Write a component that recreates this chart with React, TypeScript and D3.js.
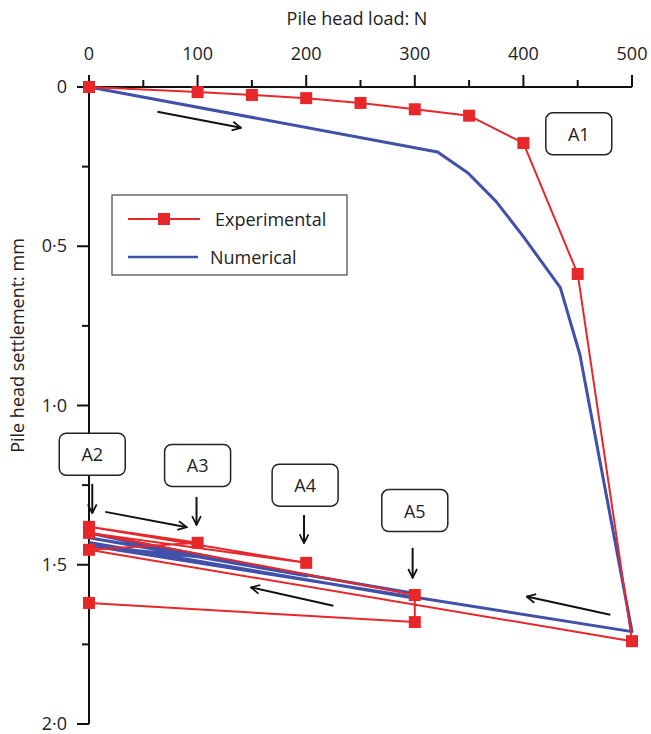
import React from "react";
import * as d3 from "d3";

// Load (N) vs settlement (mm) for the experimental cycles
const expLoad = [0, 100, 150, 200, 250, 300, 350, 400, 450, 500, 0, 100, 0, 200, 0, 300, 300, 0];
const expSettle = [0, 0.016, 0.025, 0.035, 0.05, 0.07, 0.09, 0.176, 0.587, 1.74, 1.453, 1.431, 1.381, 1.494, 1.4, 1.595, 1.68, 1.62];

// Numerical model response
const numLoad = [0, 321, 349, 375, 400, 434, 452, 500, 0, 100, 0, 200, 0, 300, 300, 0];
const numSettle = [0, 0.204, 0.27, 0.36, 0.47, 0.63, 0.84, 1.71, 1.44, 1.475, 1.4, 1.535, 1.415, 1.59, 1.605, 1.43];

const xTicks = [0, 100, 200, 300, 400, 500];
const xMinor = [50, 150, 250, 350, 450];
const yTicks = [0, 0.5, 1.0, 1.5, 2.0];
const yTickLabels = ["0", "0·5", "1·0", "1·5", "2·0"];
const yMinor = [0.25, 0.75, 1.25, 1.75];

// Stage labels: anchor load / settlement for each box
const stageNames = ["A1", "A2", "A3", "A4", "A5"];
const stageLoad = [451, 3, 100, 199, 300];
const stageSettle = [0.147, 1.153, 1.188, 1.25, 1.33];

// Direction arrows: [fromLoad, fromSettle, toLoad, toSettle]
const arrowData: [number, number, number, number][] = [
  [63, 0.078, 140, 0.128],
  [3, 1.246, 3, 1.338],
  [15, 1.334, 90, 1.382],
  [99, 1.287, 99, 1.375],
  [198, 1.344, 198, 1.432],
  [298, 1.447, 298, 1.541],
  [225, 1.629, 149, 1.571],
  [480, 1.657, 403, 1.6],
];

const W = 651;
const H = 734;
const RED = "#e8272b";
const BLUE = "#4150a8";
const FONT = "'Open Sans', 'Noto Sans', sans-serif";
const FS = 18;

export default function App() {
  const x = d3.scaleLinear().domain([0, 500]).range([89, 632]);
  const y = d3.scaleLinear().domain([0, 2]).range([87, 724]);

  const expPts = expLoad.map((l, i) => [l, expSettle[i]] as [number, number]);
  const numPts = numLoad.map((l, i) => [l, numSettle[i]] as [number, number]);
  const line = d3
    .line<[number, number]>()
    .x((d) => x(d[0]))
    .y((d) => y(d[1]));

  const ms = 12;

  return (
    <svg
      width={W}
      height={H}
      style={{ position: "absolute", left: 0, top: 0, background: "#fff" }}
      fontFamily={FONT}
    >
      <defs>
        <marker
          id="ah"
          viewBox="0 0 10 10"
          refX="9"
          refY="5"
          markerWidth="11"
          markerHeight="11"
          markerUnits="userSpaceOnUse"
          orient="auto"
        >
          <path d="M1,1 L9,5 L1,9" fill="none" stroke="#111" strokeWidth="1.6" />
        </marker>
      </defs>

      {/* axis titles */}
      <text x={357} y={25} textAnchor="middle" fontSize={FS} fill="#222">
        Pile head load: N
      </text>
      <text
        transform={`translate(24,${y(1.0) - 60}) rotate(-90)`}
        textAnchor="middle"
        fontSize={FS}
        fill="#222"
      >
        Pile head settlement: mm
      </text>

      {/* top x axis */}
      <line x1={78} x2={x(500)} y1={y(0)} y2={y(0)} stroke="#111" strokeWidth={2} />
      {xTicks.map((t) => (
        <g key={"xt" + t}>
          <line x1={x(t)} x2={x(t)} y1={y(0)} y2={y(0) - 12} stroke="#111" strokeWidth={2} />
          <text x={x(t)} y={60} textAnchor="middle" fontSize={FS} fill="#222">
            {t}
          </text>
        </g>
      ))}
      {xMinor.map((t) => (
        <line key={"xm" + t} x1={x(t)} x2={x(t)} y1={y(0)} y2={y(0) - 7} stroke="#111" strokeWidth={2} />
      ))}

      {/* left y axis */}
      <line x1={x(0)} x2={x(0)} y1={y(0)} y2={y(2)} stroke="#111" strokeWidth={2} />
      {yTicks.map((t, i) => (
        <g key={"yt" + t}>
          <line x1={x(0) - 12} x2={x(0)} y1={y(t)} y2={y(t)} stroke="#111" strokeWidth={2} />
          <text x={67} y={Math.min(y(t) + 6, H - 4)} textAnchor="end" fontSize={FS} fill="#222">
            {yTickLabels[i]}
          </text>
        </g>
      ))}
      {yMinor.map((t) => (
        <line key={"ym" + t} x1={x(0) - 7} x2={x(0)} y1={y(t)} y2={y(t)} stroke="#111" strokeWidth={2} />
      ))}

      {/* numerical curve */}
      <path d={line(numPts) || ""} fill="none" stroke={BLUE} strokeWidth={3} strokeLinejoin="round" />

      {/* experimental curve */}
      <path d={line(expPts) || ""} fill="none" stroke={RED} strokeWidth={2} strokeLinejoin="round" />
      {expPts.map((p, i) => (
        <rect
          key={"m" + i}
          x={x(p[0]) - ms / 2}
          y={y(p[1]) - ms / 2}
          width={ms}
          height={ms}
          fill={RED}
        />
      ))}

      {/* direction arrows */}
      {arrowData.map((a, i) => (
        <line
          key={"ar" + i}
          x1={x(a[0])}
          y1={y(a[1])}
          x2={x(a[2])}
          y2={y(a[3])}
          stroke="#111"
          strokeWidth={2}
          markerEnd="url(#ah)"
        />
      ))}

      {/* stage labels */}
      {stageNames.map((n, i) => {
        const cx = x(stageLoad[i]);
        const cy = y(stageSettle[i]);
        return (
          <g key={n}>
            <rect
              x={cx - 33}
              y={cy - 21}
              width={66}
              height={42}
              rx={7}
              fill="#fff"
              stroke="#222"
              strokeWidth={1.5}
            />
            <text x={cx} y={cy + 7} textAnchor="middle" fontSize={FS} fill="#222">
              {n}
            </text>
          </g>
        );
      })}

      {/* legend */}
      <g>
        <rect x={112} y={195} width={235} height={80} fill="#fff" stroke="#444" strokeWidth={1.2} />
        <line x1={128} x2={200} y1={219} y2={219} stroke={RED} strokeWidth={2} />
        <rect x={158} y={213} width={12} height={12} fill={RED} />
        <text x={215} y={226} fontSize={FS} fill="#222">
          Experimental
        </text>
        <line x1={128} x2={198} y1={257} y2={257} stroke={BLUE} strokeWidth={2.5} />
        <text x={210} y={264} fontSize={FS} fill="#222">
          Numerical
        </text>
      </g>
    </svg>
  );
}
